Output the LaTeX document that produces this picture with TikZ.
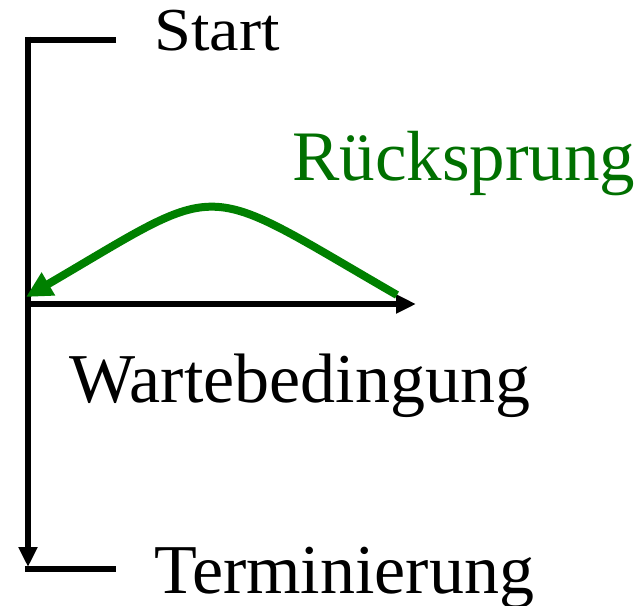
\documentclass[tikz,border=0pt]{standalone}
\usepackage{fontspec}
\setmainfont{Liberation Serif}
\usetikzlibrary{arrows.meta}
\definecolor{curvegreen}{RGB}{0,128,0}
\definecolor{textgreen}{RGB}{0,112,0}
\tikzset{
  lbl/.style={anchor=base west, inner sep=0pt},
  bar/.style={line width=6pt, black},
  blackarrow/.style={bar, -{Triangle[length=20pt,width=18pt]}},
  greenarrow/.style={line width=8pt, curvegreen, -{Triangle[length=26pt,width=25pt]}}
}
\begin{document}
\begin{tikzpicture}[x=1pt,y=-1pt]
\useasboundingbox (0,0) rectangle (641,606);
% named points
\coordinate (topR) at (116,39.5);
\coordinate (topL) at (28,36.5);
\coordinate (midL) at (28,304);
\coordinate (midR) at (416,304);
\coordinate (botTip) at (28,567);
\coordinate (botL) at (25,568.5);
\coordinate (botR) at (116,568.5);
\coordinate (curveStart) at (397,295);
\coordinate (curveEnd) at (26,297);
% labels
\node[lbl, xscale=1.09, font=\fontsize{61}{70}\selectfont] (start) at (154,50) {Start};
\node[lbl, text=textgreen, font=\fontsize{71}{80}\selectfont] (rueck) at (292,180) {Rücksprung};
\node[lbl, font=\fontsize{70}{80}\selectfont] (warte) at (69,402) {Wartebedingung};
\node[lbl, font=\fontsize{70}{80}\selectfont] (term) at (154,593) {Terminierung};
% lines
\draw[bar] (topR) -- (25,39.5);
\draw[blackarrow] (topL) -- (botTip);
\draw[bar] (botL) -- (botR);
\draw[blackarrow] (midL) -- (midR);
\draw[greenarrow] (curveStart) .. controls (196,179) and (228,179) .. (curveEnd);
\end{tikzpicture}
\end{document}
